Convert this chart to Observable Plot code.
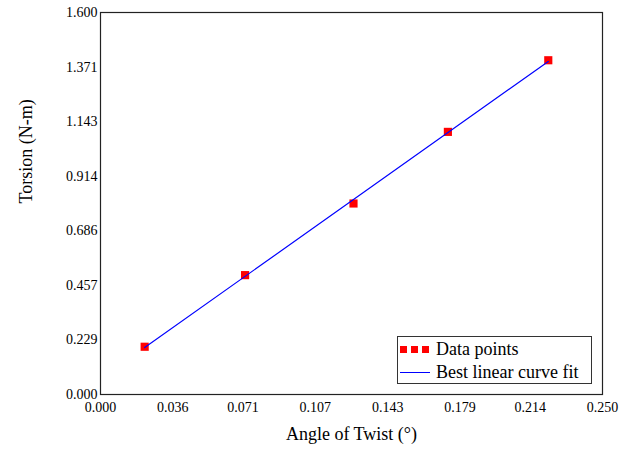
<!DOCTYPE html>
<html><head><meta charset="utf-8">
<script src="https://cdn.jsdelivr.net/npm/d3@7"></script>
<script src="https://cdn.jsdelivr.net/npm/@observablehq/plot@0.6"></script>
<style>
body{margin:0;background:#fff}
#wrap{position:relative;width:633px;height:454px;font-family:'Liberation Serif',serif}
#wrap svg, #wrap svg text{font-family:'Liberation Serif',serif !important}
#legend{position:absolute;left:397px;top:336px;width:195px;height:48px;box-sizing:border-box;border:1px solid #333;background:#fff;font-size:18px;color:#000}
.row{position:absolute;left:0;height:22px;line-height:22px;width:100%}
.sw{position:absolute;left:2px;top:0;width:30px;height:22px}
.lab{position:absolute;left:38px;top:0;white-space:nowrap}
.sq{position:absolute;top:8px;width:7px;height:7px;background:#ff0000}
.ln{position:absolute;top:11px;left:0;width:30px;height:1.2px;background:#0000ff}
</style>
</head><body><div id="wrap"></div>
<script>
const angle = [0.022, 0.072, 0.126, 0.173, 0.223];
const torsion = [0.2, 0.5, 0.8, 1.1, 1.4];
const xTickLabels = ["0.000","0.036","0.071","0.107","0.143","0.179","0.214","0.250"];
const yTickLabels = ["0.000","0.229","0.457","0.686","0.914","1.143","1.371","1.600"];
const seriesNames = ["Data points","Best linear curve fit"];

const data = angle.map((a,i)=>({angle:a, torsion:torsion[i]}));
const font = "Liberation Serif";

const plot = Plot.plot({
  width:633, height:454,
  marginLeft:100, marginRight:31, marginTop:12, marginBottom:60,
  style:{fontFamily:font, fontSize:"14px", background:"white", color:"black", overflow:"visible"},
  x:{domain:[0,0.25]},
  y:{domain:[0,1.6]},
  marks:[
    Plot.frame({stroke:"#222", strokeWidth:1.2}),
    Plot.axisX({ticks:xTickLabels.map(Number), tickFormat:d3.format(".3f"), tickSize:0, tickPadding:8, label:null, fontSize:14, fontFamily:font}),
    Plot.axisY({ticks:yTickLabels.map(Number), tickFormat:d3.format(".3f"), tickSize:0, tickPadding:3, label:null, fontSize:14, fontFamily:font}),
    Plot.dot(data, {x:"angle", y:"torsion", symbol:"square", r:4.6, fill:"#ff0000", stroke:null}),
    Plot.linearRegressionY(data, {x:"angle", y:"torsion", stroke:"#0000ff", strokeWidth:1.2, ci:0}),
    Plot.text(["Angle of Twist (°)"], {frameAnchor:"bottom", dy:45, fontSize:18, fill:"black", fontFamily:font}),
    Plot.text(["Torsion (N-m)"], {frameAnchor:"left", dx:-74, rotate:-90, fontSize:18, fill:"black", fontFamily:font})
  ]
});
const wrap = document.getElementById("wrap");
wrap.appendChild(plot);

const legend = document.createElement("div");
legend.id = "legend";
legend.innerHTML =
  `<div class="row" style="top:1px"><div class="sw"><div class="sq" style="left:0"></div><div class="sq" style="left:11px"></div><div class="sq" style="left:22px"></div></div><div class="lab">${seriesNames[0]}</div></div>` +
  `<div class="row" style="top:24px"><div class="sw"><div class="ln"></div></div><div class="lab">${seriesNames[1]}</div></div>`;
wrap.appendChild(legend);
</script>
</body></html>
